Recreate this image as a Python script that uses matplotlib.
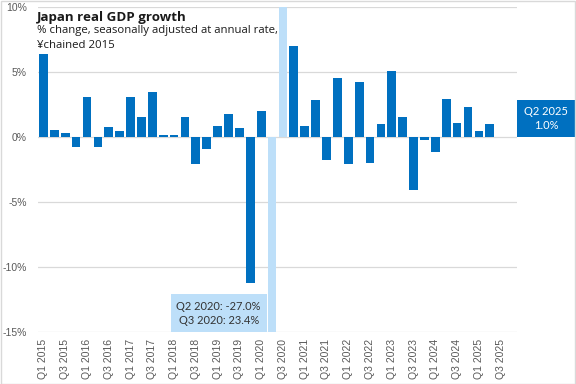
import matplotlib
matplotlib.use("Agg")
import matplotlib.pyplot as plt
from matplotlib.patches import Rectangle
import matplotlib.transforms as mtransforms

years = list(range(2015, 2026))
quarters = [f"Q{q} {y}" for y in years for q in (1, 2, 3, 4)]

growth = [6.4, 0.55, 0.3, -0.75, 3.1, -0.75, 0.8, 0.5, 3.1, 1.55, 3.5, 0.15,
          0.15, 1.55, -2.05, -0.95, 0.85, 1.8, 0.7, -11.2, 2.0, -27.0, 23.4, 7.0,
          0.85, 2.85, -1.75, 4.55, -2.05, 4.25, -2.0, 1.0, 5.1, 1.55, -4.1, -0.2,
          -1.15, 2.95, 1.1, 2.3, 0.45, 1.0, None, None]
outliers = ["Q2 2020", "Q3 2020"]
ytick_vals = [-15, -10, -5, 0, 5, 10]
ytick_labels = ["-15%", "-10%", "-5%", "0%", "5%", "10%"]

DARK = "#0070C0"
LIGHT = "#BDDFF9"
TEXT = "#595959"

fig = plt.figure(figsize=(5.76, 3.84), dpi=100)
ax = fig.add_axes([38/576, 1-332/384, (517-38)/576, (332-7)/384])

xs = list(range(len(quarters)))
for i, (q, v) in enumerate(zip(quarters, growth)):
    if v is None:
        continue
    col = LIGHT if q in outliers else DARK
    ax.bar(i, v, width=0.8, color=col, zorder=2)

ax.set_xlim(-0.5, len(quarters) - 0.5)
ax.set_ylim(-15, 10)
ax.set_yticks(ytick_vals)
ax.set_yticklabels(ytick_labels, fontsize=7.5, color=TEXT, family="Liberation Sans")
ax.set_xticks(xs[::2])
ax.set_xticklabels(quarters[::2], rotation=90, fontsize=7.5, color=TEXT, family="Liberation Sans")
ax.tick_params(axis="x", length=0, pad=5)
ax.tick_params(axis="y", length=0, pad=8)
ax.grid(axis="y", color="#D9D9D9", linewidth=0.9, zorder=0)
ax.set_axisbelow(True)
for s in ax.spines.values():
    s.set_visible(False)

# Title
fig.text(37/576, 1-17/384, "Japan real GDP growth", fontsize=9.6, fontweight="bold",
         color="#1a1a1a", family="Open Sans", va="center", ha="left")
fig.text(37/576, 1-30/384, "% change, seasonally adjusted at annual rate,", fontsize=8.2,
         color="#1a1a1a", family="Open Sans", va="center", ha="left")
fig.text(37/576, 1-45/384, "¥chained 2015", fontsize=8.2,
         color="#1a1a1a", family="Open Sans", va="center", ha="left")

# outlier annotation box
ax.add_patch(Rectangle((11.7, -15), 8.8, 2.9, facecolor=LIGHT, edgecolor="none", zorder=3, clip_on=False))
ax.text(16.1, -13.55, f"{outliers[0]}: {growth[21]:.1f}%\n{outliers[1]}: {growth[22]:.1f}%",
        ha="center", va="center", fontsize=8, color="#333333", family="Lato",
        linespacing=1.3, zorder=4)

# latest value box
last_i = max(i for i, v in enumerate(growth) if v is not None)
trans = mtransforms.blended_transform_factory(ax.transAxes, ax.transData)
ax.add_patch(Rectangle((1.0, 0), 58/479, 2.85, transform=trans, facecolor=DARK,
                       edgecolor="none", clip_on=False, zorder=3))
ax.text(1.0 + 29/479, 1.42, f"{quarters[last_i]}\n{growth[last_i]:.1f}%", transform=trans,
        ha="center", va="center", fontsize=8, color="white", family="Lato",
        linespacing=1.3, zorder=4)

# figure border
fig.add_artist(Rectangle((0.001, 0.001), 0.997, 0.997, transform=fig.transFigure,
                         facecolor="none", edgecolor="#D9D9D9", linewidth=1))

fig.savefig("out.png", dpi=100)
